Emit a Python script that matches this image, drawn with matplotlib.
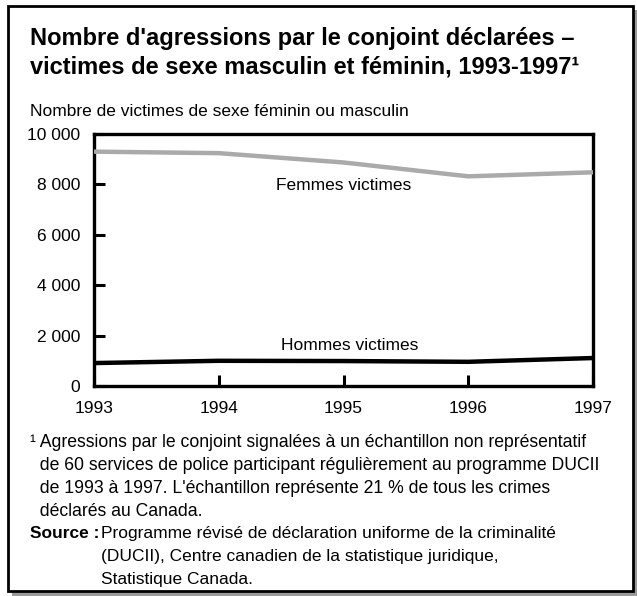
import matplotlib
matplotlib.use("Agg")
import matplotlib.pyplot as plt
from matplotlib.patches import Rectangle

plt.rcParams['font.family'] = ['Liberation Sans', 'DejaVu Sans']

# data
years = [1993, 1994, 1995, 1996, 1997]
femmes = [9300, 9240, 8870, 8320, 8480]
hommes = [910, 1000, 990, 960, 1110]
yticks = [0, 2000, 4000, 6000, 8000, 10000]
ytick_labels = ['0', '2 000', '4 000', '6 000', '8 000', '10 000']

title = "Nombre d'agressions par le conjoint déclarées –\nvictimes de sexe masculin et féminin, 1993-1997\u00b9"
subtitle = "Nombre de victimes de sexe féminin ou masculin"
note_lines = [
    "\u00b9 Agressions par le conjoint signalées à un échantillon non représentatif",
    "  de 60 services de police participant régulièrement au programme DUCII",
    "  de 1993 à 1997. L'échantillon représente 21 % de tous les crimes",
    "  déclarés au Canada.",
]
source_lines = [
    "Programme révisé de déclaration uniforme de la criminalité",
    "(DUCII), Centre canadien de la statistique juridique,",
    "Statistique Canada.",
]

W, H = 637, 596
fig = plt.figure(figsize=(W / 100, H / 100), dpi=100)

def fx(px):
    return px / W

def fy(py):
    return 1 - py / H

# outer frame with shadow
fig.patches.append(Rectangle((fx(12), fy(596)), fx(625), fy(10) - fy(596),
                             transform=fig.transFigure, facecolor='#9a9a9a',
                             edgecolor='none', zorder=-3))
fig.patches.append(Rectangle((fx(8), fy(591)), fx(625), fy(6) - fy(591),
                             transform=fig.transFigure, facecolor='white',
                             edgecolor='black', linewidth=2, zorder=-2))

ax = fig.add_axes([fx(94), fy(386), fx(593) - fx(94), fy(134) - fy(386)])
ax.set_zorder(2)
ax.plot(years, femmes, color='#aaaaaa', linewidth=3.2, solid_capstyle='butt', zorder=3)
ax.plot(years, hommes, color='black', linewidth=3.2, solid_capstyle='butt', zorder=3)

ax.set_xlim(1993, 1997)
ax.set_ylim(0, 10000)
ax.set_yticks(yticks)
ax.set_yticklabels(ytick_labels)
ax.set_xticks(years)
ax.set_xticklabels([str(y) for y in years])
ax.tick_params(axis='both', direction='in', length=8, width=2.2, labelsize=12.5,
               colors='black')
ax.tick_params(axis='y', pad=10)
ax.tick_params(axis='x', pad=11)
for s in ax.spines.values():
    s.set_linewidth(2.4)
ax.set_facecolor('white')

ax.text(1995.0, 7950, "Femmes victimes", ha='center', va='center', fontsize=12.5)
ax.text(1995.05, 1600, "Hommes victimes", ha='center', va='center', fontsize=12.5)

fig.text(fx(30), fy(27), title, ha='left', va='top', fontsize=17,
         fontweight='bold', linespacing=1.3)
fig.text(fx(30), fy(104), subtitle, ha='left', va='top', fontsize=12.5)

y0 = 434
step = 23
for i, line in enumerate(note_lines):
    fig.text(fx(30), fy(y0 + i * step), line, ha='left', va='top', fontsize=12.7)
ys = y0 + len(note_lines) * step
fig.text(fx(30), fy(ys), "Source :", ha='left', va='top', fontsize=12.5,
         fontweight='bold')
for i, line in enumerate(source_lines):
    fig.text(fx(101), fy(ys + i * step), line, ha='left', va='top', fontsize=12.5)

fig.savefig("out.png", dpi=100, facecolor='white')
